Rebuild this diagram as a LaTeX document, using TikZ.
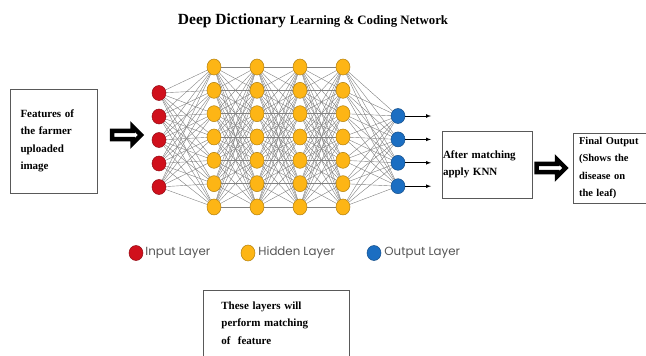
\documentclass[tikz,border=0pt]{standalone}
\usepackage{fontspec}
\setmainfont{Liberation Serif}
\newfontfamily\legendfont{Poppins}
\usetikzlibrary{shapes,arrows,positioning,calc,backgrounds}

\definecolor{inred}{HTML}{D0101C}
\definecolor{hidorange}{HTML}{FDB515}
\definecolor{outblue}{HTML}{1B6EC2}
\definecolor{legendgray}{HTML}{555555}

\begin{document}
\begin{tikzpicture}[x=1pt,y=-1pt,
    box/.style={draw=black!65, line width=0.8pt, align=left, font=\bfseries\fontsize{11}{17.5}\selectfont},
    neuron/.style={ellipse, minimum width=14pt, minimum height=15pt, inner sep=0pt, line width=0.5pt},
    link/.style={black!50, line width=0.4pt},
    legend/.style={font=\legendfont\fontsize{11.8}{13}\selectfont, text=legendgray, inner sep=1pt},
    blockarrow/.style={single arrow, draw=black, line width=4.5pt, fill=white, minimum height=29pt, minimum width=17pt, single arrow head extend=2.5pt, inner sep=0pt}]

\useasboundingbox (0,0) rectangle (646,356);
\clip (0,0) rectangle (646,356);

% title
\node (title) at (313,21) {\bfseries\fontsize{15.5}{17}\selectfont Deep Dictionary \fontsize{12.8}{15}\selectfont Learning \& Coding Network};

% input layer
\foreach \i in {1,...,5}
    \node[neuron, fill=inred, draw=inred!70!black] (in-\i) at (159, {93+23.5*(\i-1)}) {};

% hidden layers
\foreach \l/\x in {1/214,2/257,3/300,4/343}
    \foreach \j in {1,...,7}
        \node[neuron, fill=hidorange, draw=hidorange!70!black, minimum height=16pt] (h\l-\j) at (\x, {67+23.33*(\j-1)}) {};

% output layer
\foreach \k in {1,...,4}{
    \node[neuron, fill=outblue, draw=outblue!70!black] (out-\k) at (398, {116+23.4*(\k-1)}) {};
    \coordinate (tip-\k) at (431, {116+23.4*(\k-1)});
    \draw[-latex, line width=0.7pt] (out-\k) -- (tip-\k);
}

% links
\begin{scope}[on background layer]
    \foreach \i in {1,...,5} \foreach \j in {1,...,7} \draw[link] (in-\i) -- (h1-\j);
    \foreach \l/\m in {1/2,2/3,3/4} \foreach \i in {1,...,7} \foreach \j in {1,...,7} \draw[link] (h\l-\i) -- (h\m-\j);
    \foreach \i in {1,...,7} \foreach \k in {1,...,4} \draw[link] (h4-\i) -- (out-\k);
\end{scope}

% boxes and block arrows
\node[box, minimum width=87pt, minimum height=104pt, text width=66pt, inner xsep=10.5pt] (features) at (53.5,141) {Features of\\the farmer\\uploaded\\image};
\node[blockarrow] (arrowin) at (124.5,135) {};
\node[box, minimum height=67pt, text width=88pt, inner xsep=1pt] (knn) at (487,164.5) {After matching\\apply KNN};
\node[blockarrow] (arrowout) at (549,168) {};
\node[box, minimum height=70pt, text width=63pt, inner xsep=6pt, font=\bfseries\fontsize{10.5}{17.5}\selectfont] (final) at (610.5,168) {Final Output\\(Shows the\\disease on\\the leaf)};

% legend
\node[neuron, fill=inred, draw=inred!70!black] (leg-in) at (136,253) {};
\node[legend, right=1pt of leg-in] (leg-in-txt) {Input Layer};
\node[neuron, fill=hidorange, draw=hidorange!70!black, minimum height=16pt] (leg-hid) at (248,253) {};
\node[legend, right=2pt of leg-hid] (leg-hid-txt) {Hidden Layer};
\node[neuron, fill=outblue, draw=outblue!70!black] (leg-out) at (374,253) {};
\node[legend, right=2pt of leg-out] (leg-out-txt) {Output Layer};

\node[box, anchor=north west, text width=128pt, inner xsep=9pt, inner ysep=11pt, text depth=50pt] (matchbox) at (203,290) {\hspace{9pt}These layers will\\\hspace{9pt}perform matching\\\hspace{9pt}of~ feature};
\end{tikzpicture}
\end{document}
